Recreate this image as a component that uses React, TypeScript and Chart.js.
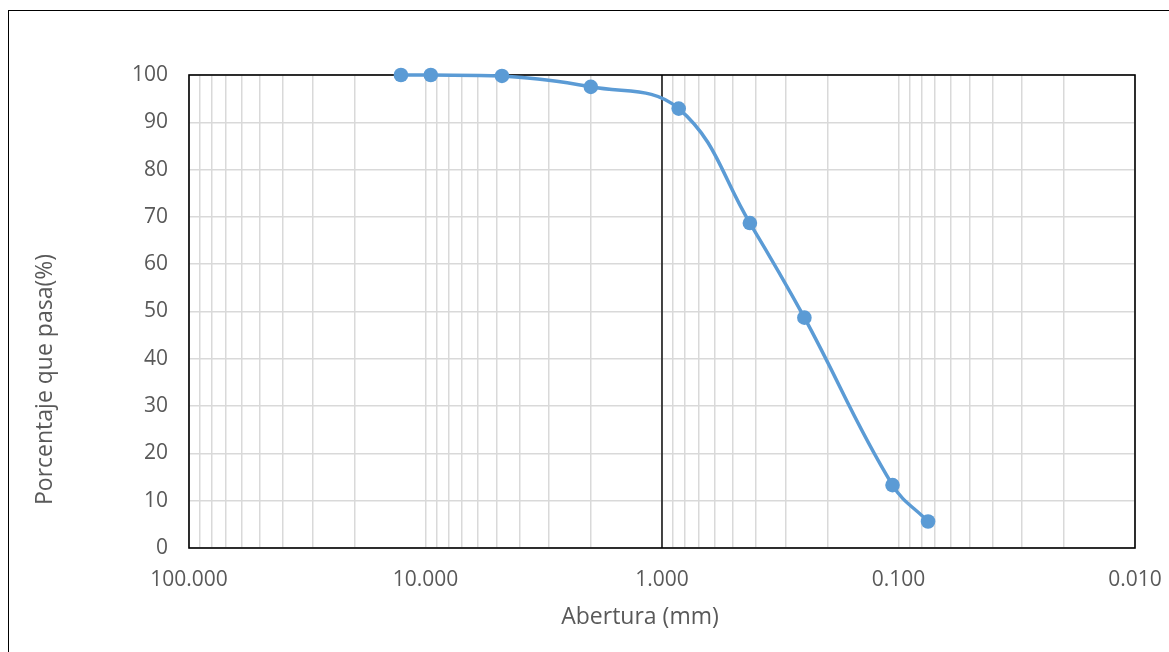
import React, { useEffect, useRef } from "react";
import { Chart, registerables } from "chart.js";

Chart.register(...registerables);

// Sieve openings (mm) and percent passing
const sieveOpenings = [12.7, 9.5, 4.75, 2.0, 0.85, 0.425, 0.25, 0.106, 0.075];
const percentPassing = [100, 100, 99.8, 97.5, 92.9, 68.7, 48.7, 13.3, 5.6];

// Log-axis grid positions (1..9 x 10^k from 0.01 to 100)
const gridExponents = [-2, -1, 0, 1];
const gridMultipliers = [1, 2, 3, 4, 5, 6, 7, 8, 9];
const yTickStep = 10;

const xTitle = "Abertura (mm)";
const yTitle = "Porcentaje que pasa(%)";

const FONT = "'Open Sans', 'Noto Sans', sans-serif";
const TEXT_COLOR = "#595959";
const SERIES_COLOR = "#5b9bd5";

const gridValues: number[] = [];
gridExponents.forEach((e) =>
  gridMultipliers.forEach((m) => gridValues.push(Number((m * Math.pow(10, e)).toPrecision(12))))
);
gridValues.push(100);

const isDecade = (v: number) => {
  const l = Math.log10(v);
  return Math.abs(l - Math.round(l)) < 1e-9;
};

const framePlugin = {
  id: "frame",
  beforeDatasetsDraw(chart: any) {
    const { ctx, chartArea } = chart;
    const xs = chart.scales.x;
    ctx.save();
    ctx.strokeStyle = "#000";
    ctx.lineWidth = 1.6;
    ctx.strokeRect(chartArea.left, chartArea.top, chartArea.right - chartArea.left, chartArea.bottom - chartArea.top);
    const x1 = xs.getPixelForValue(1);
    ctx.lineWidth = 1.4;
    ctx.beginPath();
    ctx.moveTo(x1, chartArea.top);
    ctx.lineTo(x1, chartArea.bottom);
    ctx.stroke();
    ctx.restore();
  },
  afterDraw(chart: any) {
    const { ctx, chartArea } = chart;
    ctx.save();
    ctx.fillStyle = TEXT_COLOR;
    ctx.font = `23px ${FONT}`;
    ctx.textAlign = "center";
    ctx.textBaseline = "middle";
    ctx.fillText(xTitle, (chartArea.left + chartArea.right) / 2 - 22, chartArea.bottom + 69);
    ctx.translate(chartArea.left - 144, (chartArea.top + chartArea.bottom) / 2 + 68);
    ctx.rotate(-Math.PI / 2);
    ctx.fillText(yTitle, 0, 0);
    ctx.restore();
  },
};

export default function App() {
  const canvasRef = useRef<HTMLCanvasElement | null>(null);

  useEffect(() => {
    if (!canvasRef.current) return;
    const chart = new Chart(canvasRef.current, {
      type: "line",
      data: {
        datasets: [
          {
            data: sieveOpenings.map((x, i) => ({ x, y: percentPassing[i] })),
            borderColor: SERIES_COLOR,
            backgroundColor: SERIES_COLOR,
            borderWidth: 3.5,
            pointRadius: 7.3,
            pointBorderWidth: 0,
            pointBackgroundColor: SERIES_COLOR,
            tension: 0.4,
            fill: false,
            clip: false,
          },
        ],
      },
      options: {
        animation: false,
        responsive: false,
        maintainAspectRatio: false,
        layout: { padding: { left: 0, right: 34, top: 75, bottom: 0 } },
        plugins: { legend: { display: false }, tooltip: { enabled: false } },
        scales: {
          x: {
            type: "logarithmic",
            reverse: true,
            min: 0.01,
            max: 100,
            afterBuildTicks: (s: any) => {
              s.ticks = gridValues.map((v) => ({ value: v }));
            },
            afterFit: (s: any) => {
              s.height = 104;
            },
            ticks: {
              autoSkip: false,
              maxRotation: 0,
              minRotation: 0,
              padding: 19,
              color: TEXT_COLOR,
              font: { family: FONT, size: 21 },
              callback: (v: any) => (isDecade(Number(v)) ? Number(v).toFixed(3) : ""),
            },
            grid: { color: "#d9d9d9", lineWidth: 1.5, drawTicks: false },
            border: { display: false },
          },
          y: {
            min: 0,
            max: 100,
            afterFit: (s: any) => {
              s.width = 189;
            },
            ticks: {
              stepSize: yTickStep,
              padding: 21,
              color: TEXT_COLOR,
              font: { family: FONT, size: 21 },
            },
            grid: { color: "#d9d9d9", lineWidth: 1.5, drawTicks: false },
            border: { display: false },
          },
        },
      } as any,
      plugins: [framePlugin],
    });
    return () => chart.destroy();
  }, []);

  return (
    <div style={{ position: "fixed", left: 0, top: 0, width: 1169, height: 652, overflow: "hidden", background: "#fff" }}>
      <div
        style={{
          position: "absolute",
          left: 8,
          top: 10,
          width: 1300,
          height: 800,
          borderLeft: "1px solid #000",
          borderTop: "1px solid #000",
        }}
      />
      <canvas ref={canvasRef} width={1169} height={652} style={{ position: "absolute", left: 0, top: 0, display: "block" }} />
    </div>
  );
}
